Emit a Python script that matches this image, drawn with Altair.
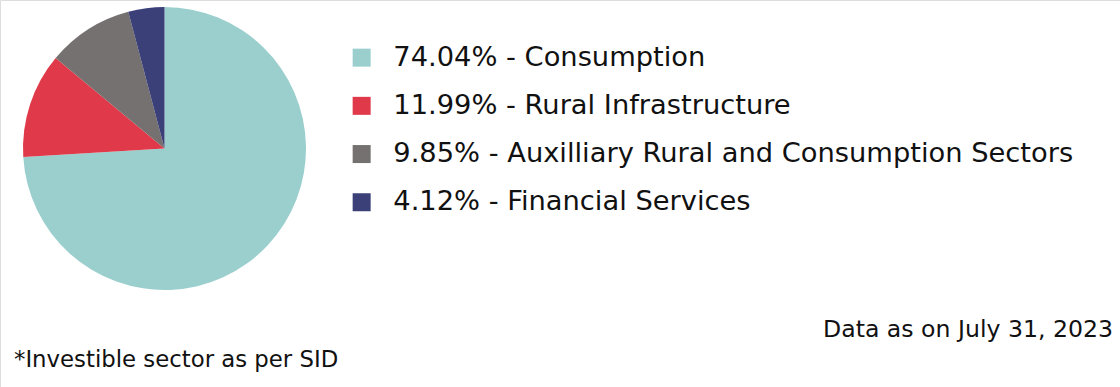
import altair as alt
import pandas as pd

sectors = ["Consumption", "Rural Infrastructure", "Auxilliary Rural and Consumption Sectors", "Financial Services"]
shares = [74.04, 11.99, 9.85, 4.12]
colors = ["#9BCFCE", "#E03A4A", "#757170", "#3B4079"]
notes = ["Data as on July 31, 2023", "*Investible sector as per SID"]

labels = [f"{v:.2f}% - {s}" for v, s in zip(shares, sectors)]
df = pd.DataFrame({"label": labels, "share": shares, "idx": list(range(len(shares)))})

FONT = "DejaVu Sans"

pie = alt.Chart(df).mark_arc(outerRadius=141.5, stroke=None).encode(
    theta=alt.Theta("share:Q", stack=True),
    order=alt.Order("idx:Q"),
    x=alt.value(164.5),
    y=alt.value(148.5),
    color=alt.Color(
        "label:N",
        scale=alt.Scale(domain=labels, range=colors),
        legend=alt.Legend(
            title=None,
            orient="none",
            legendX=348,
            legendY=44,
            symbolType="square",
            symbolSize=324,
            symbolStrokeWidth=0,
            labelFontSize=27.3,
            labelFont=FONT,
            labelColor="#111111",
            labelOffset=18,
            labelLimit=900,
            rowPadding=20.2,
        ),
    ),
)

note1 = alt.Chart(pd.DataFrame({"t": [notes[0]]})).mark_text(
    align="right", baseline="alphabetic", fontSize=23.6, font=FONT, color="#111111"
).encode(text="t:N", x=alt.value(1113), y=alt.value(337))

note2 = alt.Chart(pd.DataFrame({"t": [notes[1]]})).mark_text(
    align="left", baseline="alphabetic", fontSize=22.8, font=FONT, color="#111111"
).encode(text="t:N", x=alt.value(14), y=alt.value(367))

chart = alt.layer(pie, note1, note2).properties(
    width=1120, height=387, autosize=alt.AutoSizeParams(type="none"), padding=0
).configure_view(stroke=None).configure(background="white")

chart.save("out.html", embed_options={"renderer": "svg", "actions": False})
